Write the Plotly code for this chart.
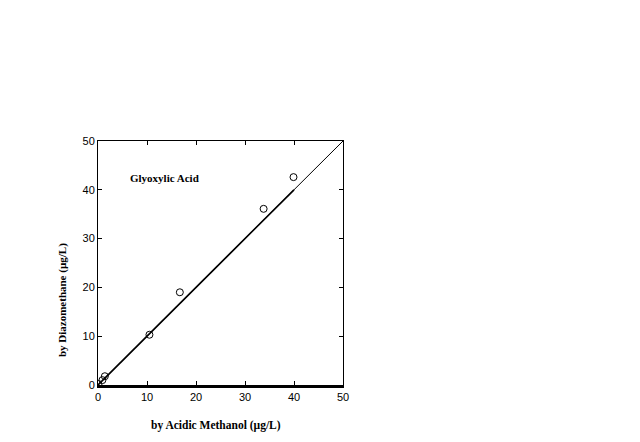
import plotly.graph_objects as go

acidic_methanol = [0.1, 0.9, 1.4, 10.5, 16.7, 33.8, 39.9]
diazomethane = [0.2, 1.0, 1.8, 10.3, 19.0, 36.1, 42.6]
one_to_one_x = [0, 50]
one_to_one_y = [0, 50]
fit_x = [0, 40]
fit_y = [0, 40]
ticks = [0, 10, 20, 30, 40, 50]

serif = "Liberation Serif, Times New Roman"

fig = go.Figure()
fig.add_trace(go.Scatter(x=one_to_one_x, y=one_to_one_y, mode="lines",
                         line=dict(color="black", width=1), showlegend=False))
fig.add_trace(go.Scatter(x=fit_x, y=fit_y, mode="lines",
                         line=dict(color="black", width=1.7), showlegend=False))
fig.add_trace(go.Scatter(x=acidic_methanol, y=diazomethane, mode="markers",
                         marker=dict(symbol="circle-open", size=7, color="black",
                                     line=dict(width=1, color="black")),
                         showlegend=False))
# invisible trace for top axis
fig.add_trace(go.Scatter(x=[0], y=[0], xaxis="x2", mode="markers",
                         marker=dict(opacity=0), showlegend=False, hoverinfo="skip"))

fig.update_layout(
    width=640, height=442,
    margin=dict(l=90, r=305, t=133, b=65),
    paper_bgcolor="white", plot_bgcolor="white",
    font=dict(family="Liberation Sans, Arial", size=11, color="black"),
    xaxis=dict(range=[0, 50], tickvals=ticks, ticks="inside", ticklen=4,
               tickcolor="black", showline=True, linewidth=3, linecolor="black",
               mirror=False, showgrid=False, zeroline=False),
    xaxis2=dict(range=[0, 50], tickvals=ticks, ticks="inside", ticklen=4,
                tickcolor="black", overlaying="x", side="top", showticklabels=False,
                showline=True, linewidth=1, linecolor="black", showgrid=False,
                zeroline=False),
    yaxis=dict(range=[0, 50], tickvals=ticks, ticks="inside", ticklen=4,
               tickcolor="black", showline=True, linewidth=1, linecolor="black",
               mirror="ticks", showgrid=False, zeroline=False),
    annotations=[
        dict(x=13.6, y=42.4, xref="x", yref="y", text="<b>Glyoxylic Acid</b>",
             xanchor="center", yanchor="middle",
             showarrow=False, font=dict(family=serif, size=11)),
        dict(x=0.482, y=-0.164, xref="paper", yref="paper",
             xanchor="center", yanchor="middle",
             text="<b>by Acidic Methanol (µg/L)</b>", showarrow=False,
             font=dict(family=serif, size=11.5)),
        dict(x=-0.147, y=0.348, xref="paper", yref="paper", textangle=-90,
             xanchor="center", yanchor="middle",
             text="<b>by Diazomethane (µg/L)</b>", showarrow=False,
             font=dict(family=serif, size=11)),
    ],
)
fig.write_html("out.html")
